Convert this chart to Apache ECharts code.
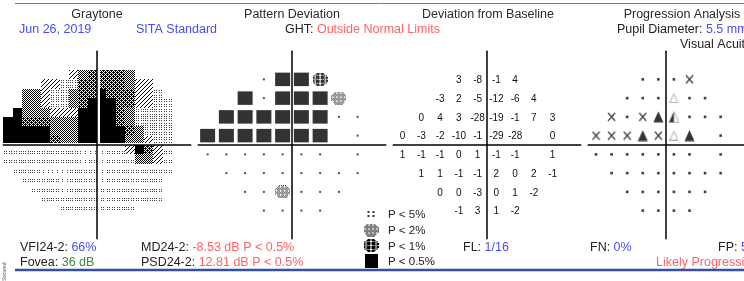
<!DOCTYPE html>
<html><head><meta charset="utf-8">
<script src="https://cdn.jsdelivr.net/npm/echarts@6/dist/echarts.min.js"></script>
<style>html,body{margin:0;padding:0;background:#fff}#c{width:744px;height:281px}</style>
</head><body><div id="c"></div>
<script>
// ---------- DATA ----------
const rowY = [21, 15, 9, 3, -3, -9, -15, -21];
const rowX = [
  [-9, -3, 3, 9],
  [-15, -9, -3, 3, 9, 15],
  [-21, -15, -9, -3, 3, 9, 15, 21],
  [-27, -21, -15, -9, -3, 3, 9, 15, 21],
  [-27, -21, -15, -9, -3, 3, 9, 15, 21],
  [-21, -15, -9, -3, 3, 9, 15, 21],
  [-15, -9, -3, 3, 9, 15],
  [-9, -3, 3, 9]
];
// Pattern deviation: 0 normal, 1 P<5%, 2 P<2%, 3 P<1%, 4 P<0.5%, null blind spot
const patternDev = [
  [0, 4, 4, 3],
  [4, 0, 4, 4, 4, 2],
  [4, 4, 4, 4, 4, 4, 0, 0],
  [4, 4, 4, 4, 4, 4, 4, null, 0],
  [0, 0, 0, 0, 0, 0, 0, null, 0],
  [0, 0, 0, 0, 0, 0, 0, 0],
  [0, 0, 2, 0, 0, 0],
  [0, 0, 0, 0]
];
// Deviation from baseline (dB)
const devBaseline = [
  [3, -8, -1, 4],
  [-3, 2, -5, -12, -6, 4],
  [0, 4, 3, -28, -19, -1, 7, 3],
  [0, -3, -2, -10, -1, -29, -28, null, 0],
  [1, -1, -1, 0, 1, -1, -1, null, 1],
  [1, 1, -1, -1, 2, 0, 2, -1],
  [0, 0, -3, 0, 1, -2],
  [-1, 3, 1, -2]
];
// Progression: 0 no change, 1 X, 2 filled triangle, 3 open triangle, 4 half triangle
const progression = [
  [0, 0, 0, 1],
  [0, 0, 0, 3, 0, 0],
  [1, 0, 1, 2, 4, 0, 0, 0],
  [1, 1, 1, 2, 1, 3, 2, null, 0],
  [0, 0, 0, 0, 0, 0, 0, null, 0],
  [0, 0, 0, 0, 0, 0, 0, 0],
  [0, 0, 0, 0, 0, 0],
  [0, 0, 0, 0]
];
// Graytone levels per 3-degree cell (x -30..30, y 24..-21): 0 none .. 7 black
const graytone = [
  [0,0,0,0,0,0,0,4,5,6,6,6,6,5,0,0,0,0,0,0],
  [0,0,0,0,4,4,3,3,6,6,6,6,6,5,4,4,0,0,0,0],
  [0,0,5,5,4,3,3,5,6,6,7,6,6,6,4,4,3,0,0,0],
  [0,0,5,5,4,3,3,5,6,7,7,7,6,6,4,4,3,3,0,0],
  [0,7,5,5,5,4,4,4,7,7,7,7,6,5,3,3,3,3,0,0],
  [7,7,6,6,6,5,5,5,7,7,7,7,6,5,3,3,3,3,0,0],
  [7,7,7,7,7,5,5,5,7,7,7,7,7,6,5,3,3,3,0,0],
  [7,7,7,7,7,6,5,5,7,7,7,7,7,5,5,4,3,3,0,0],
  [2,2,2,2,2,2,2,2,1,1,1,2,2,4,7,6,4,2,0,0],
  [2,2,2,2,2,2,2,2,1,2,1,2,2,2,5,5,4,2,0,0],
  [0,2,2,2,1,1,1,2,2,2,1,2,2,2,2,2,2,2,0,0],
  [0,0,2,2,2,2,1,2,2,2,1,2,2,2,2,2,2,0,0,0],
  [0,0,0,2,2,2,1,2,2,2,2,2,2,2,2,2,2,0,0,0],
  [0,0,0,0,2,2,2,2,2,2,2,2,2,2,2,2,2,0,0,0],
  [0,0,0,0,0,0,2,2,2,2,2,2,2,2,0,0,0,0,0,0]
];
const legendLabels = ['P < 5%', 'P < 2%', 'P < 1%', 'P < 0.5%'];

// ---------- STYLE HELPERS ----------
const F = '"Liberation Sans", Arial, sans-serif';
function mkCanvas(w, h, draw) { const c = document.createElement('canvas'); c.width = w; c.height = h; draw(c.getContext('2d')); return c; }
function pix(w, h, test, color) { return mkCanvas(w, h, g => { g.fillStyle = color || '#000'; for (let y = 0; y < h; y++) for (let x = 0; x < w; x++) if (test(x, y)) g.fillRect(x, y, 1, 1); }); }
const fills = {
  4: { image: pix(4, 4, (x, y) => x + y === 3), repeat: 'repeat' },
  5: { image: pix(2, 2, (x, y) => (x + y) % 2 === 0), repeat: 'repeat' },
  6: { image: pix(4, 4, (x, y) => (x + y) % 2 === 0 || (x === 1 && y === 0) || (x === 3 && y === 2)), repeat: 'repeat' },
  7: '#000'
};
const dotSets = {
  1: { xs: [2, 7], ys: [6, 8] },
  2: { xs: [1, 3, 6, 8], ys: [6, 8] },
  3: { xs: [1, 3, 6, 8], ys: [1, 3, 6, 8] }
};
const inBlob = (x, y) => { const u = (x - 7) / 7.6, v = (y - 6) / 6.6; return u * u + v * v <= 1.05; };
const P2 = pix(15, 13, (x, y) => inBlob(x, y) && (x + y) % 2 === 0 && !(x % 4 === 1 && y % 4 === 1)).toDataURL();
const P1 = pix(15, 13, (x, y) => inBlob(x, y) && !(x % 5 === 2) && !(y % 4 === 2 && x % 2 === 0)).toDataURL();
const P5 = mkCanvas(9, 8, g => { g.fillStyle = '#333'; [[1,1],[6,1],[1,5],[6,5]].forEach(p => g.fillRect(p[0], p[1], 2, 2)); }).toDataURL();
const P05 = mkCanvas(14, 14, g => { g.fillStyle = '#000'; g.fillRect(0, 0, 14, 14); }).toDataURL();
const XS = mkCanvas(9, 10, g => { g.strokeStyle = '#111'; g.lineWidth = 1.3; g.beginPath(); g.moveTo(1,1); g.lineTo(8,9); g.moveTo(8,1); g.lineTo(1,9); g.stroke(); }).toDataURL();
const TRI = mkCanvas(11, 12, g => { g.fillStyle = '#000'; g.beginPath(); g.moveTo(5.5,0.5); g.lineTo(10.5,11.5); g.lineTo(0.5,11.5); g.closePath(); g.fill(); }).toDataURL();
const OTRI = mkCanvas(9, 10, g => { g.strokeStyle = '#9a9a9a'; g.lineWidth = 1; g.beginPath(); g.moveTo(4.5,0.5); g.lineTo(8.5,9.5); g.lineTo(0.5,9.5); g.closePath(); g.stroke(); }).toDataURL();
const HTRI = mkCanvas(11, 12, g => { g.fillStyle = '#000'; g.beginPath(); g.moveTo(5.5,0.5); g.lineTo(5.5,11.5); g.lineTo(0.5,11.5); g.closePath(); g.fill(); g.strokeStyle = '#9a9a9a'; g.lineWidth = 1; g.beginPath(); g.moveTo(5.5,0.5); g.lineTo(10.5,11.5); g.lineTo(5.5,11.5); g.stroke(); }).toDataURL();

const pdStyle = {
  0: { symbol: 'rect', symbolSize: [2, 2], itemStyle: { color: '#222' } },
  1: { symbol: 'image://' + P5, symbolSize: [9, 8] },
  2: { symbol: 'image://' + P2, symbolSize: [15, 13] },
  3: { symbol: 'image://' + P1, symbolSize: [15, 13] },
  4: { symbol: 'rect', symbolSize: [15, 13.5], itemStyle: { color: '#000' } }
};
const prStyle = {
  0: { symbol: 'rect', symbolSize: [2.6, 2.6], itemStyle: { color: '#111' } },
  1: { symbol: 'image://' + XS, symbolSize: [9, 10] },
  2: { symbol: 'image://' + TRI, symbolSize: [11, 12] },
  3: { symbol: 'image://' + OTRI, symbolSize: [9, 10] },
  4: { symbol: 'image://' + HTRI, symbolSize: [11, 12] }
};

function pointsFrom(codes) {
  const out = [];
  codes.forEach((row, i) => row.forEach((v, j) => { if (v !== null) out.push([rowX[i][j], rowY[i], v]); }));
  return out;
}
const grayData = [];
graytone.forEach((row, r) => row.forEach((lv, c) => { if (lv) grayData.push([-30 + 3 * c, 24 - 3 * r, lv]); }));

// ---------- LAYOUT ----------
const PX = 3.125, CY = 145;
const centers = [97, 292, 487, 682];
const axisBase = { type: 'value', min: -30, max: 30, z: 3, axisTick: { show: false }, axisLabel: { show: false }, splitLine: { show: false },
  axisLine: { show: true, onZero: true, lineStyle: { color: '#000', width: 1.5 } } };

function tx(x, y, text, color, size, align) {
  return { type: 'text', x, y, silent: true, style: { text, fill: color || '#2b2b2b', font: (size || 12.5) + 'px ' + F,
    align: align || 'left', verticalAlign: 'middle', textAlign: align || 'left', textVerticalAlign: 'middle' } };
}
function rt(x, y, parts, size) {
  const rich = {}; let text = '';
  parts.forEach((p, i) => { rich['p' + i] = { fill: p[1], fontSize: size || 12.5, fontFamily: F }; text += '{p' + i + '|' + p[0] + '}'; });
  return { type: 'text', x, y, silent: true, style: { text, rich, fontSize: size || 12.5, fontFamily: F, align: 'left', verticalAlign: 'middle', textAlign: 'left', textVerticalAlign: 'middle' } };
}
const BLUE = '#4a4aff', RED = '#ff6464', GREEN = '#3d8a3d', DARK = '#222';

const graphics = [
  { type: 'line', silent: true, shape: { x1: 15, y1: 3.5, x2: 744, y2: 3.5 }, style: { stroke: '#6a78b0', lineWidth: 1 } },
  { type: 'line', silent: true, shape: { x1: 15, y1: 270, x2: 744, y2: 270 }, style: { stroke: '#34509e', lineWidth: 2.5 } },
  tx(97, 14.5, 'Graytone', null, 12.5, 'center'),
  tx(292, 14.5, 'Pattern Deviation', null, 12.5, 'center'),
  tx(488, 14.5, 'Deviation from Baseline', null, 12.5, 'center'),
  tx(682, 14.5, 'Progression Analysis', null, 12.5, 'center'),
  tx(19, 29.5, 'Jun 26, 2019', BLUE),
  tx(136, 29.5, 'SITA Standard', BLUE),
  rt(285, 29.5, [['GHT: ', DARK], ['Outside Normal Limits', RED]]),
  rt(617, 29.5, [['Pupil Diameter: ', DARK], ['5.5 mm', BLUE]]),
  tx(680, 45, 'Visual Acuity:', DARK),
  rt(20, 247.5, [['VFI24-2: ', DARK], ['66%', BLUE]]),
  rt(20, 263, [['Fovea: ', DARK], ['36 dB', GREEN]]),
  rt(141, 247.5, [['MD24-2: ', DARK], ['-8.53 dB P < 0.5%', RED]]),
  rt(141, 263, [['PSD24-2: ', DARK], ['12.81 dB P < 0.5%', RED]]),
  rt(463, 247.5, [['FL: ', DARK], ['1/16', BLUE]]),
  rt(590, 247.5, [['FN: ', DARK], ['0%', BLUE]]),
  rt(718, 247.5, [['FP: ', DARK], ['5%', BLUE]]),
  tx(656, 263, 'Likely Progression', RED),
  { type: 'text', x: 2, y: 281, rotation: Math.PI / 2, silent: true, style: { text: 'Secured', fill: '#555', font: '5px ' + F } }
];
const legendImgs = [[P5, 9, 8], [P2, 15, 13], [P1, 15, 13], [P05, 13, 14]];
const legendY = [214, 230, 245.5, 261];
legendImgs.forEach((li, i) => {
  graphics.push({ type: 'image', silent: true, x: 371 - li[1] / 2, y: legendY[i] - li[2] / 2, style: { image: li[0], width: li[1], height: li[2] } });
  graphics.push(tx(388, legendY[i] + 1, legendLabels[i], DARK, 11.5));
});

const option = {
  animation: false,
  grid: centers.map(cx => ({ left: cx - 30 * PX, top: CY - 30 * PX, width: 60 * PX, height: 60 * PX })),
  xAxis: centers.map((c, i) => Object.assign({ gridIndex: i }, axisBase)),
  yAxis: centers.map((c, i) => Object.assign({ gridIndex: i }, axisBase)),
  series: [
    {
      type: 'custom', xAxisIndex: 0, yAxisIndex: 0, silent: true, z: 1, data: grayData,
      renderItem: (params, api) => {
        const x0 = api.value(0), y0 = api.value(1), lv = api.value(2);
        const p0 = api.coord([x0, y0]), p1 = api.coord([x0 + 3, y0 - 3]);
        let L = Math.round(p0[0]);
        const T = Math.round(p0[1]), R = Math.round(p1[0]), B = Math.round(p1[1]) - (y0 === 3 ? 2 : 0);
        if (x0 === 0) L += 3;
        if (lv >= 4) return { type: 'rect', shape: { x: L, y: T, width: R - L, height: B - T }, style: { fill: fills[lv] } };
        const ds = dotSets[lv], children = [];
        ds.ys.forEach(dy => ds.xs.forEach(dx => {
          if (L + dx < R && T + dy < B) children.push({ type: 'rect', shape: { x: L + dx, y: T + dy, width: 1, height: 1 }, style: { fill: '#444' } });
        }));
        return { type: 'group', children };
      }
    },
    {
      type: 'scatter', xAxisIndex: 1, yAxisIndex: 1, silent: true,
      data: pointsFrom(patternDev).map(p => Object.assign({ value: p }, pdStyle[p[2]]))
    },
    {
      type: 'custom', xAxisIndex: 2, yAxisIndex: 2, silent: true, data: pointsFrom(devBaseline),
      renderItem: (params, api) => {
        const c = api.coord([api.value(0), api.value(1)]);
        return { type: 'text', x: c[0], y: c[1] + 1, style: { text: String(api.value(2)), fill: '#111', font: '10px ' + F,
          align: 'center', verticalAlign: 'middle', textAlign: 'center', textVerticalAlign: 'middle' } };
      }
    },
    {
      type: 'scatter', xAxisIndex: 3, yAxisIndex: 3, silent: true,
      data: pointsFrom(progression).map(p => Object.assign({ value: p }, prStyle[p[2]]))
    }
  ],
  graphic: { elements: graphics }
};
const chart = echarts.init(document.getElementById('c'), null, { renderer: 'canvas', width: 744, height: 281 });
chart.setOption(option);
</script>
</body></html>
